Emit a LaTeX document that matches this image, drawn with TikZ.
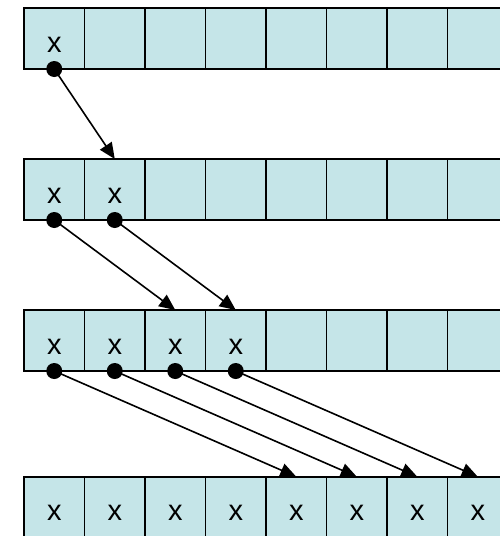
\documentclass[tikz,border=0pt]{standalone}
\usepackage{fontspec}
\setmainfont{Liberation Sans}
\usetikzlibrary{arrows.meta,backgrounds}
\definecolor{cellfill}{RGB}{197,229,232}
\begin{document}
\begin{tikzpicture}[x=1pt,y=-1pt,
  cell/.style={draw=black,fill=cellfill,line width=1.6pt,minimum width=60.5pt,
    minimum height=61pt,inner sep=0pt,outer sep=0pt,text height=27pt,text depth=0pt,
    font=\fontsize{29}{30}\selectfont},
  dot/.style={circle,fill=black,minimum size=16pt,inner sep=0pt,outer sep=0pt},
  link/.style={line width=1.6pt,-{Triangle[length=16pt,width=14pt]}}]
\useasboundingbox (0,0) rectangle (500,536);
\clip (0,0) rectangle (500,536);
% four rows of eight cells; row \r holds \n marked entries
\foreach \r/\t/\n in {1/8/1,2/159/2,3/310/4,4/476.7/8}{
  \foreach \c in {1,...,8}{
    \node[cell] (r\r c\c) at ({24+(\c-0.5)*60.5},{\t+30.5}) {\ifnum\c>\n\else x\fi};
  }
}
% source dots on the bottom edge of each marked cell
\foreach \r/\n in {1/1,2/2,3/4}{
  \foreach \c in {1,...,\n}{
    \node[dot] (p\r c\c) at (r\r c\c.south) {};
  }
}
% copy arrows, kept behind the cells
\begin{scope}[on background layer]
  \draw[link] (p1c1.center) -- (r2c2.north);
  \draw[link] (p2c1.center) -- (r3c3.north);
  \draw[link] (p2c2.center) -- (r3c4.north);
  \draw[link] (p3c1.center) -- (r4c5.north);
  \draw[link] (p3c2.center) -- (r4c6.north);
  \draw[link] (p3c3.center) -- (r4c7.north);
  \draw[link] (p3c4.center) -- (r4c8.north);
\end{scope}
\end{tikzpicture}
\end{document}
